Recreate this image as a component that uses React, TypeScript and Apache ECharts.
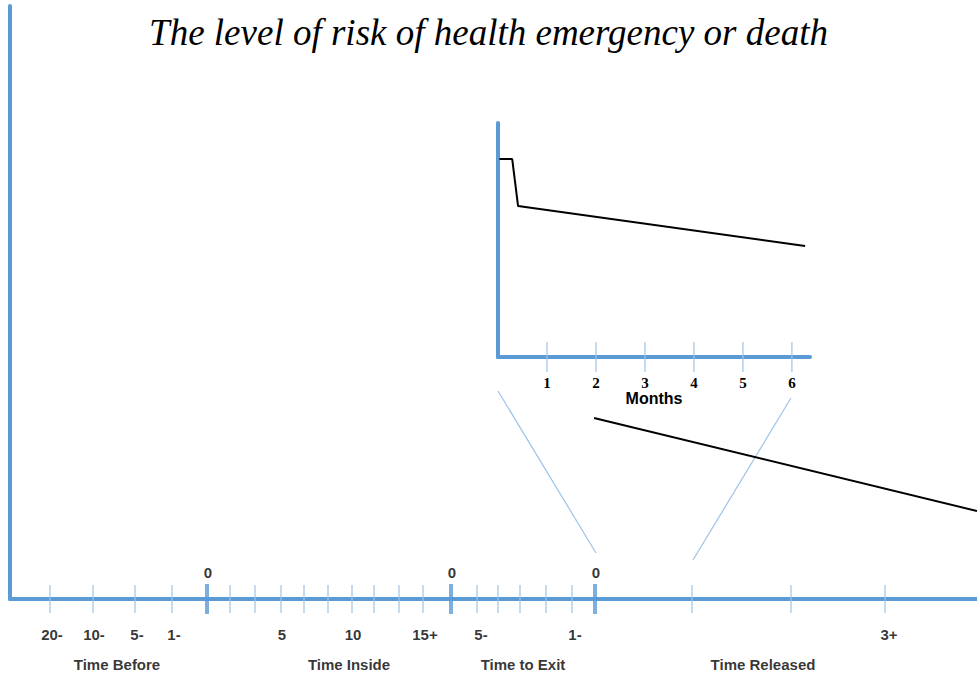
import React, { useEffect, useRef } from "react";
import * as echarts from "echarts";

const BLUE = "#5b9bd5";
const LIGHT = "#9dc3e6";
const SANS = "'Liberation Sans', Arial, sans-serif";
const SERIF = "'Liberation Serif', 'Times New Roman', serif";

const titleText = "The level of risk of health emergency or death";

// Main timeline (positions along the timeline axis)
const minorTicks = [40, 83, 125, 162, 220, 245, 271, 294, 318, 342, 364, 389, 413, 467, 488, 510, 536, 562, 682, 781, 875];
const zeroTicks = [197, 441, 585];
const tickLabelPos = [42, 84, 127, 164, 272, 343, 415, 471, 565, 879];
const tickLabels = ["20-", "10-", "5-", "1-", "5", "10", "15+", "5-", "1-", "3+"];
const groupNames = ["Time Before", "Time Inside", "Time to Exit", "Time Released"];
const groupPos = [107, 339, 513, 753];

// Risk level after release (main scale)
const riskMain = [[584, 181], [967, 88]];
// Zoom connector lines (main scale)
const zoomLeft = [[488, 208], [586, 46]];
const zoomRight = [[781, 201], [683, 39]];

// Inset: first months after release
const months = [1, 2, 3, 4, 5, 6];
const insetRisk = [[0.03, 84.6], [0.29, 84.6], [0.41, 64.5], [6.27, 47.4]];

export default function App() {
  const ref = useRef<HTMLDivElement>(null);
  useEffect(() => {
    if (!ref.current) return;
    const chart = echarts.init(ref.current, null, { renderer: "svg" });
    chart.setOption({
      animation: false,
      backgroundColor: "#ffffff",
      title: {
        text: titleText,
        left: "center",
        top: 9,
        textStyle: {
          fontFamily: SERIF,
          fontStyle: "italic",
          fontWeight: "normal",
          fontSize: 37,
          color: "#000",
        },
      },
      grid: [
        { left: 10, right: 0, top: 6, bottom: 76 },
        { left: 498, top: 123, width: 312, height: 234 },
      ],
      xAxis: [
        {
          gridIndex: 0,
          type: "value",
          min: 0,
          max: 967,
          axisLine: { show: true, lineStyle: { color: BLUE, width: 4 } },
          axisTick: { show: false },
          axisLabel: { show: false },
          splitLine: { show: false },
        },
        {
          gridIndex: 1,
          type: "value",
          min: 0,
          max: 6.37,
          interval: 1,
          name: "Months",
          nameLocation: "middle",
          nameGap: 33,
          nameTextStyle: { fontFamily: SANS, fontWeight: "bold", fontSize: 16, color: "#000" },
          axisLine: { show: true, lineStyle: { color: BLUE, width: 4 } },
          axisTick: { show: false },
          axisLabel: {
            margin: 18,
            fontFamily: SERIF,
            fontWeight: "bold",
            fontSize: 15,
            color: "#000",
            formatter: (v: number) => (Number.isInteger(v) && v > 0 ? String(v) : ""),
          },
          splitLine: { show: false },
        },
      ],
      yAxis: [
        {
          gridIndex: 0,
          type: "value",
          min: 0,
          max: 593,
          axisLine: { show: true, lineStyle: { color: BLUE, width: 4 } },
          axisTick: { show: false },
          axisLabel: { show: false },
          splitLine: { show: false },
        },
        {
          gridIndex: 1,
          type: "value",
          min: 0,
          max: 100,
          axisLine: { show: true, lineStyle: { color: BLUE, width: 4 } },
          axisTick: { show: false },
          axisLabel: { show: false },
          splitLine: { show: false },
        },
      ],
      series: [
        {
          type: "line",
          xAxisIndex: 0,
          yAxisIndex: 0,
          data: zoomLeft,
          symbol: "none",
          lineStyle: { color: LIGHT, width: 1.2 },
          silent: true,
        },
        {
          type: "line",
          xAxisIndex: 0,
          yAxisIndex: 0,
          data: zoomRight,
          symbol: "none",
          lineStyle: { color: LIGHT, width: 1.2 },
          silent: true,
        },
        {
          type: "line",
          xAxisIndex: 0,
          yAxisIndex: 0,
          data: riskMain,
          symbol: "none",
          lineStyle: { color: "#000", width: 2 },
          silent: true,
        },
        {
          type: "scatter",
          xAxisIndex: 0,
          yAxisIndex: 0,
          clip: false,
          data: minorTicks.map((x) => [x, 0]),
          symbol: "rect",
          symbolSize: [1.5, 28],
          itemStyle: { color: LIGHT },
          silent: true,
          z: 3,
        },
        {
          type: "scatter",
          xAxisIndex: 0,
          yAxisIndex: 0,
          clip: false,
          data: zeroTicks.map((x) => [x, 0]),
          symbol: "rect",
          symbolSize: [4, 30],
          itemStyle: { color: BLUE },
          label: {
            show: true,
            position: "inside",
            offset: [1, -27],
            formatter: "0",
            fontFamily: SANS,
            fontWeight: "bold",
            fontSize: 15,
            color: "#000",
          },
          silent: true,
          z: 4,
        },
        {
          type: "scatter",
          xAxisIndex: 0,
          yAxisIndex: 0,
          clip: false,
          data: tickLabelPos.map((x, i) => ({ value: [x, 0], name: tickLabels[i] })),
          symbolSize: 1,
          itemStyle: { color: "rgba(0,0,0,0)" },
          label: {
            show: true,
            position: "inside",
            offset: [0, 35],
            formatter: (p: any) => p.name,
            fontFamily: SANS,
            fontWeight: "bold",
            fontSize: 15,
            color: "#000",
          },
          silent: true,
        },
        {
          type: "scatter",
          xAxisIndex: 0,
          yAxisIndex: 0,
          clip: false,
          data: groupPos.map((x, i) => ({ value: [x, 0], name: groupNames[i] })),
          symbolSize: 1,
          itemStyle: { color: "rgba(0,0,0,0)" },
          label: {
            show: true,
            position: "inside",
            offset: [0, 65],
            formatter: (p: any) => p.name,
            fontFamily: SANS,
            fontWeight: "bold",
            fontSize: 15,
            color: "#000",
          },
          silent: true,
        },
        {
          type: "scatter",
          xAxisIndex: 1,
          yAxisIndex: 1,
          clip: false,
          data: months.map((m) => [m, 0]),
          symbol: "rect",
          symbolSize: [1.5, 30],
          itemStyle: { color: LIGHT },
          silent: true,
          z: 3,
        },
        {
          type: "line",
          xAxisIndex: 1,
          yAxisIndex: 1,
          data: insetRisk,
          symbol: "none",
          lineStyle: { color: "#000", width: 2 },
          silent: true,
        },
      ],
    });
    return () => chart.dispose();
  }, []);
  return (
    <div
      ref={ref}
      style={{ position: "fixed", left: 0, top: 0, width: 977, height: 675, background: "#fff" }}
    />
  );
}
